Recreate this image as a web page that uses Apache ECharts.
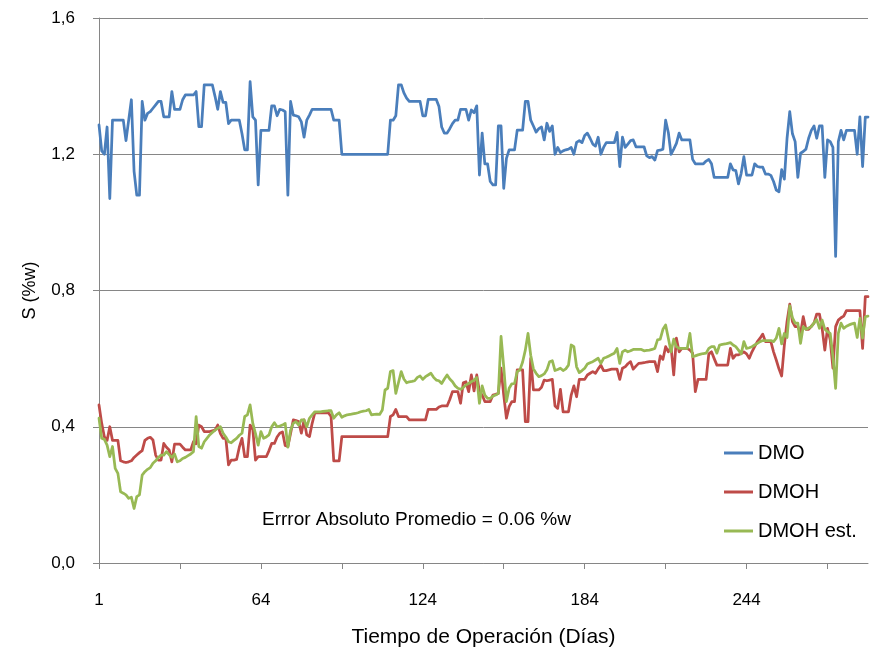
<!DOCTYPE html>
<html>
<head>
<meta charset="utf-8">
<title>S (%w) - DMO / DMOH</title>
<script src="https://cdn.jsdelivr.net/npm/echarts/dist/echarts.min.js"></script>
<style>
  html, body { margin: 0; padding: 0; background: #fff; }
  #chart { width: 871px; height: 656px; }
</style>
</head>
<body>
<div id="chart"></div>
<script>
// Operating days (category axis); days 21, 42 and 50 have no record
const missingDays = [21, 42, 50];
const days = [];
for (let d = 1; d <= 289; d++) if (!missingDays.includes(d)) days.push(String(d));

// Y axis ticks
const yTicks = [0, 0.4, 0.8, 1.2, 1.6];

// Sulfur content of the feed (DMO), %w
const dmo = [
  1.286, 1.21, 1.20, 1.28, 1.07, 1.30, 1.30, 1.30, 1.30, 1.30,
  1.24, 1.30, 1.36, 1.15, 1.08, 1.08, 1.355, 1.30, 1.32, 1.325,
  1.335, 1.345, 1.355, 1.355, 1.31, 1.31, 1.31, 1.384, 1.332, 1.332,
  1.332, 1.36, 1.374, 1.374, 1.374, 1.374, 1.384, 1.281, 1.281, 1.404,
  1.404, 1.404, 1.404, 1.37, 1.332, 1.384, 1.352, 1.352, 1.29, 1.30,
  1.30, 1.30, 1.30, 1.26, 1.213, 1.213, 1.413, 1.31, 1.30, 1.11,
  1.27, 1.27, 1.27, 1.27, 1.342, 1.342, 1.313, 1.332, 1.33, 1.325,
  1.08, 1.355, 1.315, 1.313, 1.31, 1.295, 1.25, 1.30, 1.315, 1.332,
  1.332, 1.332, 1.332, 1.332, 1.332, 1.332, 1.332, 1.30, 1.30, 1.30,
  1.20, 1.20, 1.20, 1.20, 1.20, 1.20, 1.20, 1.20, 1.20, 1.20,
  1.20, 1.20, 1.20, 1.20, 1.20, 1.20, 1.20, 1.20, 1.30, 1.30,
  1.313, 1.404, 1.404, 1.38, 1.365, 1.355, 1.355, 1.355, 1.355, 1.355,
  1.313, 1.313, 1.361, 1.361, 1.361, 1.361, 1.34, 1.28, 1.262, 1.262,
  1.275, 1.29, 1.30, 1.30, 1.332, 1.332, 1.332, 1.30, 1.33, 1.322,
  1.342, 1.139, 1.262, 1.172, 1.172, 1.12, 1.11, 1.11, 1.283, 1.283,
  1.10, 1.188, 1.213, 1.213, 1.213, 1.271, 1.271, 1.271, 1.355, 1.355,
  1.30, 1.283, 1.265, 1.275, 1.28, 1.242, 1.291, 1.267, 1.283, 1.20,
  1.22, 1.205, 1.21, 1.213, 1.215, 1.22, 1.20, 1.235, 1.24, 1.234,
  1.255, 1.262, 1.247, 1.23, 1.224, 1.25, 1.20, 1.22, 1.234, 1.234,
  1.234, 1.234, 1.264, 1.164, 1.25, 1.22, 1.23, 1.24, 1.242, 1.222,
  1.222, 1.222, 1.222, 1.195, 1.19, 1.193, 1.183, 1.211, 1.212, 1.215,
  1.30, 1.264, 1.20, 1.215, 1.232, 1.262, 1.242, 1.242, 1.242, 1.242,
  1.185, 1.172, 1.172, 1.172, 1.172, 1.18, 1.185, 1.172, 1.132, 1.132,
  1.132, 1.132, 1.132, 1.132, 1.172, 1.154, 1.152, 1.113, 1.144, 1.193,
  1.139, 1.139, 1.139, 1.172, 1.164, 1.162, 1.162, 1.142, 1.142, 1.138,
  1.12, 1.095, 1.09, 1.155, 1.127, 1.247, 1.325, 1.26, 1.237, 1.132,
  1.203, 1.208, 1.215, 1.247, 1.27, 1.283, 1.247, 1.283, 1.283, 1.132,
  1.242, 1.237, 1.22, 0.90, 1.237, 1.27, 1.242, 1.27, 1.27, 1.27,
  1.27, 1.20, 1.31, 1.164, 1.309, 1.309
];

// Sulfur content of the hydrotreated product (DMOH), %w
const dmoh = [
  0.464, 0.41, 0.37, 0.36, 0.40, 0.36, 0.36, 0.36, 0.30, 0.297,
  0.295, 0.297, 0.30, 0.31, 0.317, 0.324, 0.33, 0.36, 0.366, 0.369,
  0.361, 0.317, 0.302, 0.302, 0.351, 0.34, 0.332, 0.297, 0.349, 0.349,
  0.349, 0.34, 0.332, 0.332, 0.332, 0.356, 0.35, 0.405, 0.40, 0.386,
  0.386, 0.386, 0.388, 0.39, 0.405, 0.38, 0.366, 0.366, 0.288, 0.302,
  0.302, 0.304, 0.34, 0.366, 0.312, 0.312, 0.405, 0.392, 0.302, 0.312,
  0.312, 0.312, 0.312, 0.33, 0.351, 0.351, 0.37, 0.381, 0.385, 0.345,
  0.342, 0.38, 0.42, 0.418, 0.415, 0.381, 0.42, 0.376, 0.371, 0.41,
  0.441, 0.441, 0.441, 0.441, 0.441, 0.441, 0.43, 0.30, 0.30, 0.30,
  0.371, 0.371, 0.371, 0.371, 0.371, 0.371, 0.371, 0.371, 0.371, 0.371,
  0.371, 0.371, 0.371, 0.371, 0.371, 0.371, 0.371, 0.371, 0.43, 0.435,
  0.451, 0.43, 0.43, 0.43, 0.43, 0.42, 0.42, 0.42, 0.42, 0.42,
  0.42, 0.42, 0.451, 0.451, 0.451, 0.451, 0.458, 0.461, 0.461, 0.461,
  0.48, 0.503, 0.503, 0.503, 0.469, 0.529, 0.532, 0.503, 0.552, 0.505,
  0.552, 0.503, 0.493, 0.474, 0.474, 0.474, 0.493, 0.495, 0.498, 0.572,
  0.493, 0.425, 0.459, 0.474, 0.474, 0.567, 0.567, 0.567, 0.415, 0.415,
  0.601, 0.508, 0.508, 0.508, 0.516, 0.537, 0.535, 0.537, 0.539, 0.461,
  0.454, 0.51, 0.444, 0.444, 0.444, 0.493, 0.52, 0.488, 0.539, 0.539,
  0.539, 0.552, 0.557, 0.562, 0.557, 0.57, 0.581, 0.565, 0.565, 0.567,
  0.569, 0.569, 0.569, 0.539, 0.572, 0.576, 0.585, 0.591, 0.569, 0.578,
  0.586, 0.587, 0.588, 0.59, 0.591, 0.591, 0.591, 0.562, 0.608, 0.598,
  0.635, 0.62, 0.635, 0.552, 0.66, 0.62, 0.63, 0.63, 0.63, 0.625,
  0.616, 0.503, 0.539, 0.539, 0.539, 0.539, 0.614, 0.62, 0.60, 0.581,
  0.581, 0.581, 0.581, 0.581, 0.63, 0.601, 0.611, 0.611, 0.615, 0.62,
  0.614, 0.601, 0.62, 0.635, 0.65, 0.66, 0.672, 0.65, 0.65, 0.65,
  0.62, 0.596, 0.57, 0.549, 0.64, 0.709, 0.76, 0.709, 0.694, 0.694,
  0.674, 0.723, 0.686, 0.686, 0.695, 0.704, 0.731, 0.731, 0.689, 0.625,
  0.689, 0.655, 0.572, 0.694, 0.713, 0.72, 0.725, 0.741, 0.741, 0.741,
  0.741, 0.741, 0.741, 0.63, 0.782, 0.782
];

// Estimated product sulfur (DMOH est.), %w
const dmohEst = [
  0.425, 0.366, 0.363, 0.346, 0.312, 0.342, 0.278, 0.263, 0.209, 0.205,
  0.20, 0.19, 0.193, 0.16, 0.195, 0.20, 0.258, 0.268, 0.275, 0.28,
  0.293, 0.30, 0.31, 0.317, 0.317, 0.327, 0.318, 0.31, 0.32, 0.297,
  0.30, 0.307, 0.31, 0.315, 0.32, 0.327, 0.43, 0.342, 0.337, 0.356,
  0.366, 0.376, 0.383, 0.39, 0.395, 0.40, 0.381, 0.37, 0.356, 0.353,
  0.36, 0.366, 0.375, 0.381, 0.43, 0.435, 0.464, 0.41, 0.38, 0.346,
  0.386, 0.366, 0.37, 0.376, 0.40, 0.412, 0.40, 0.402, 0.405, 0.41,
  0.34, 0.39, 0.41, 0.415, 0.405, 0.42, 0.42, 0.40, 0.425, 0.435,
  0.444, 0.444, 0.444, 0.445, 0.446, 0.447, 0.447, 0.425, 0.435, 0.441,
  0.428, 0.432, 0.435, 0.436, 0.438, 0.439, 0.441, 0.444, 0.446, 0.447,
  0.451, 0.435, 0.436, 0.437, 0.436, 0.449, 0.508, 0.513, 0.562, 0.565,
  0.498, 0.53, 0.562, 0.54, 0.529, 0.532, 0.533, 0.535, 0.545, 0.549,
  0.539, 0.547, 0.552, 0.557, 0.545, 0.537, 0.535, 0.527, 0.54, 0.552,
  0.54, 0.532, 0.52, 0.513, 0.51, 0.515, 0.523, 0.527, 0.532, 0.537,
  0.545, 0.469, 0.52, 0.493, 0.483, 0.483, 0.49, 0.493, 0.498, 0.665,
  0.576, 0.474, 0.513, 0.526, 0.527, 0.562, 0.567, 0.59, 0.625, 0.674,
  0.61, 0.57, 0.557, 0.547, 0.55, 0.555, 0.567, 0.591, 0.594, 0.565,
  0.568, 0.572, 0.565, 0.57, 0.581, 0.64, 0.635, 0.576, 0.559, 0.565,
  0.572, 0.584, 0.588, 0.591, 0.596, 0.601, 0.586, 0.601, 0.604, 0.608,
  0.612, 0.616, 0.63, 0.586, 0.62, 0.625, 0.62, 0.623, 0.627, 0.627,
  0.627, 0.627, 0.623, 0.624, 0.625, 0.627, 0.63, 0.655, 0.657, 0.686,
  0.699, 0.66, 0.62, 0.657, 0.635, 0.63, 0.63, 0.63, 0.63, 0.674,
  0.606, 0.608, 0.611, 0.613, 0.615, 0.616, 0.63, 0.635, 0.635, 0.616,
  0.64, 0.642, 0.643, 0.645, 0.647, 0.64, 0.635, 0.625, 0.614, 0.65,
  0.63, 0.632, 0.635, 0.64, 0.645, 0.65, 0.653, 0.653, 0.653, 0.653,
  0.65, 0.66, 0.689, 0.643, 0.674, 0.662, 0.755, 0.72, 0.704, 0.704,
  0.645, 0.694, 0.686, 0.69, 0.694, 0.705, 0.715, 0.689, 0.713, 0.686,
  0.679, 0.674, 0.606, 0.513, 0.674, 0.704, 0.689, 0.695, 0.699, 0.702,
  0.704, 0.662, 0.718, 0.66, 0.723, 0.725
];

const seriesNames = ['DMO', 'DMOH', 'DMOH est.'];
const seriesColors = ['#4A7EBB', '#BE4B48', '#98B954'];
const note = 'Errror Absoluto Promedio = 0.06 %w';

const FONT = '"Liberation Sans", Arial, sans-serif';
const AXIS_GREY = '#868686';

const chart = echarts.init(document.getElementById('chart'), null, { renderer: 'canvas' });

const lineSeries = [dmo, dmoh, dmohEst].map((vals, k) => ({
  name: seriesNames[k],
  type: 'line',
  data: vals,
  symbol: 'none',
  smooth: false,
  animation: false,
  lineStyle: { color: seriesColors[k], width: 2.75, join: 'round', cap: 'round' },
  itemStyle: { color: seriesColors[k] },
  z: 2 + k
}));

chart.setOption({
  backgroundColor: '#ffffff',
  animation: false,
  textStyle: { fontFamily: FONT },
  grid: { left: 99, right: 3, top: 18, bottom: 93, containLabel: false },
  legend: {
    orient: 'vertical',
    left: 719,
    top: 437,
    icon: 'rect',
    itemWidth: 29,
    itemHeight: 3,
    itemGap: 17,
    data: seriesNames,
    textStyle: { fontFamily: FONT, fontSize: 20, color: '#000', lineHeight: 22 }
  },
  xAxis: {
    type: 'category',
    data: days,
    boundaryGap: false,
    name: 'Tiempo de Operación (Días)',
    nameLocation: 'middle',
    nameGap: 64,
    nameTextStyle: { fontFamily: FONT, fontSize: 21, color: '#000' },
    axisLine: { show: true, lineStyle: { color: AXIS_GREY, width: 1 } },
    axisTick: { show: true, interval: 29, length: 6, lineStyle: { color: AXIS_GREY } },
    axisLabel: { interval: 59, fontSize: 17, color: '#000', margin: 29, fontFamily: FONT },
    splitLine: { show: false }
  },
  yAxis: {
    type: 'value',
    min: yTicks[0],
    max: yTicks[yTicks.length - 1],
    interval: 0.4,
    name: 'S (%w)',
    nameLocation: 'middle',
    nameGap: 60,
    nameTextStyle: { fontFamily: FONT, fontSize: 18, color: '#000' },
    axisLine: { show: true, lineStyle: { color: AXIS_GREY, width: 1 } },
    axisTick: { show: true, length: 6, lineStyle: { color: AXIS_GREY } },
    axisLabel: {
      fontSize: 17, color: '#000', margin: 24, fontFamily: FONT,
      formatter: v => v.toFixed(1).replace('.', ',')
    },
    splitLine: { show: true, lineStyle: { color: AXIS_GREY, width: 1 } }
  },
  graphic: [{
    type: 'text',
    left: 262,
    top: 510,
    style: { text: note, fontFamily: FONT, fontSize: 19, fill: '#000' }
  }],
  series: lineSeries
});
</script>
</body>
</html>
